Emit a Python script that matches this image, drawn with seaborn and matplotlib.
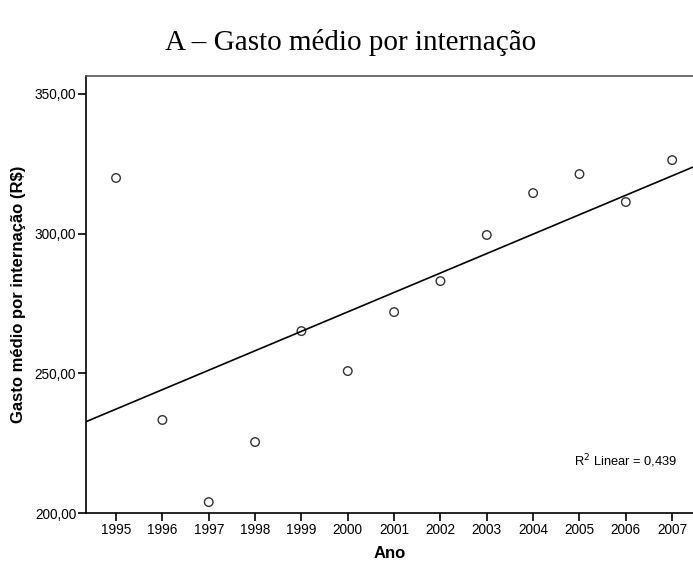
import matplotlib
matplotlib.use("Agg")
import matplotlib.pyplot as plt
import seaborn as sns
import pandas as pd

anos = [1995, 1996, 1997, 1998, 1999, 2000, 2001, 2002, 2003, 2004, 2005, 2006, 2007]
gasto = [319.9, 233.3, 203.9, 225.4, 265.1, 250.8, 271.9, 283.0, 299.5, 314.5, 321.3, 311.3, 326.3]
y_ticks = [200, 250, 300, 350]
y_tick_labels = ["200,00", "250,00", "300,00", "350,00"]

df = pd.DataFrame({"Ano": anos, "Gasto": gasto})

sns.set_theme(style="white")
plt.rcParams['font.family'] = ['Liberation Sans', 'DejaVu Sans']
plt.rcParams['text.color'] = 'black'
plt.rcParams['axes.labelcolor'] = 'black'
plt.rcParams['xtick.color'] = 'black'
plt.rcParams['ytick.color'] = 'black'

fig = plt.figure(figsize=(6.93, 5.63), dpi=100)
ax = fig.add_axes([0.124, 0.0888, 0.876, 0.7762])
ax.set_xlim(1994.35, 2007.45)
ax.set_ylim(200, 356.4)

sns.regplot(data=df, x="Ano", y="Gasto", ax=ax, ci=None, truncate=False,
            scatter_kws=dict(s=38, facecolors="none", edgecolors="black", linewidths=1.0),
            line_kws=dict(color="black", linewidth=1.2))

ax.set_xticks(anos)
ax.set_xticklabels([str(a) for a in anos], fontsize=9.8)
ax.set_yticks(y_ticks)
ax.set_yticklabels(y_tick_labels, fontsize=9.8)
ax.tick_params(axis="both", which="major", bottom=True, left=True, direction="out",
               length=5.5, width=1.2, color="black", pad=1.5)

for side in ["left", "bottom"]:
    ax.spines[side].set_color("black")
    ax.spines[side].set_linewidth(1.2)
ax.spines["top"].set_color("#555555")
ax.spines["top"].set_linewidth(1.2)
ax.spines["right"].set_visible(False)

ax.set_xlabel("Ano", fontsize=12, fontweight="bold", labelpad=7)
ax.set_ylabel("Gasto médio por internação (R$)", fontsize=12, fontweight="bold", labelpad=6)

ax.text(0.889, 0.119, "R$^2$ Linear = 0,439", transform=ax.transAxes,
        fontsize=9.3, ha="center", va="center")

fig.text(0.506, 0.925, "A – Gasto médio por internação", ha="center", va="center",
         fontsize=21, family=["Liberation Serif", "DejaVu Serif"])

fig.savefig("out.png", dpi=100)
